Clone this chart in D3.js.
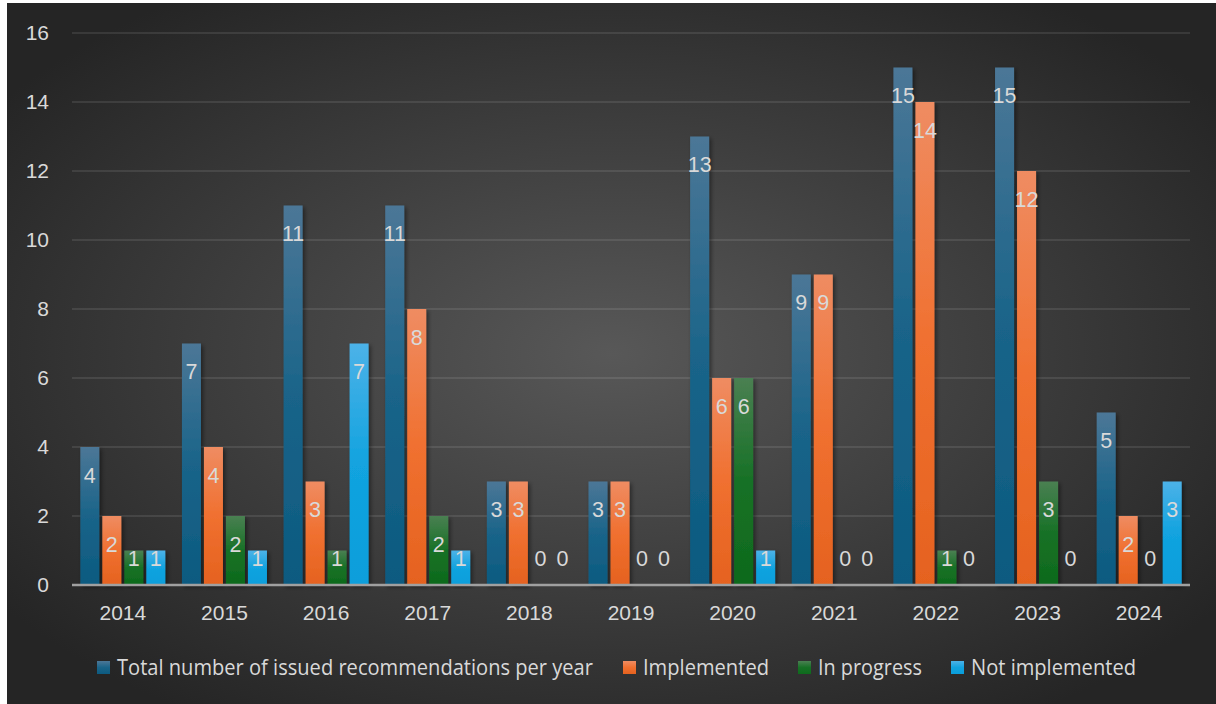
<!DOCTYPE html>
<html>
<head>
<meta charset="utf-8">
<script src="https://cdn.jsdelivr.net/npm/d3@7"></script>
<style>
  html, body { margin: 0; padding: 0; background: #ffffff; }
  svg { display: block; }
</style>
</head>
<body>
<svg id="chart" width="1216" height="704"></svg>
<script>
// ---- data ----
const years = ["2014","2015","2016","2017","2018","2019","2020","2021","2022","2023","2024"];
const seriesNames = ["Total number of issued recommendations per year", "Implemented", "In progress", "Not implemented"];
const totalIssued    = [4, 7, 11, 11, 3, 3, 13, 9, 15, 15, 5];
const implemented    = [2, 4, 3, 8, 3, 3, 6, 9, 14, 12, 2];
const inProgress     = [1, 2, 1, 2, 0, 0, 6, 0, 1, 3, 0];
const notImplemented = [1, 1, 7, 1, 0, 0, 1, 0, 0, 0, 3];
const yTicks = [0, 2, 4, 6, 8, 10, 12, 14, 16];

const seriesValues = [totalIssued, implemented, inProgress, notImplemented];
const seriesGrad = [
  ["#4c7797", "#1a6489", "#0c5a80"],
  ["#ef8c62", "#f07030", "#e5621f"],
  ["#4a8052", "#177126", "#0e6a1c"],
  ["#4cb2e8", "#12a3df", "#0a9edb"]
];

const svg = d3.select("#chart");
const defs = svg.append("defs");

// background radial gradient
const bg = defs.append("radialGradient").attr("id", "bg")
  .attr("cx", "50%").attr("cy", "50%").attr("r", "62%");
bg.append("stop").attr("offset", "0%").attr("stop-color", "#585858");
bg.append("stop").attr("offset", "100%").attr("stop-color", "#252525");

seriesGrad.forEach((g, i) => {
  const lg = defs.append("linearGradient").attr("id", "g" + i)
    .attr("x1", 0).attr("y1", 0).attr("x2", 0).attr("y2", 1);
  lg.append("stop").attr("offset", "0%").attr("stop-color", g[0]);
  lg.append("stop").attr("offset", "50%").attr("stop-color", g[1]);
  lg.append("stop").attr("offset", "100%").attr("stop-color", g[2]);
});

const sh = defs.append("filter").attr("id", "shadow")
  .attr("x", "-30%").attr("y", "-10%").attr("width", "160%").attr("height", "120%");
sh.append("feDropShadow").attr("dx", 2).attr("dy", 2).attr("stdDeviation", 2)
  .attr("flood-color", "#000").attr("flood-opacity", 0.45);

svg.append("rect").attr("x", 7).attr("y", 3).attr("width", 1209).attr("height", 701)
  .attr("fill", "url(#bg)");

const plotLeft = 72, plotRight = 1190, plotTop = 33, plotBottom = 585;
const y = d3.scaleLinear().domain([0, 16]).range([plotBottom, plotTop]);
const x0 = d3.scaleBand().domain(years).range([plotLeft, plotRight]).paddingInner(0).paddingOuter(0);

const groupW = 85;
const x1 = d3.scaleBand().domain(d3.range(4)).range([-groupW / 2, groupW / 2])
  .paddingInner(3 / 22).paddingOuter(0);

const textColor = "#d9d9d9";
const numFont = "'Liberation Sans', Arial, sans-serif";

// gridlines
svg.append("g").selectAll("line").data(yTicks.filter(t => t > 0)).join("line")
  .attr("x1", plotLeft).attr("x2", plotRight)
  .attr("y1", d => y(d)).attr("y2", d => y(d))
  .attr("stroke", "rgba(255,255,255,0.13)").attr("stroke-width", 1.5);

// y tick labels
svg.append("g").selectAll("text").data(yTicks).join("text")
  .attr("x", 49).attr("y", d => y(d)).attr("dy", "0.35em")
  .attr("text-anchor", "end").attr("fill", textColor)
  .attr("font-family", numFont).attr("font-size", 21)
  .text(d => d);

// bars
const gBars = svg.append("g");
years.forEach((yr, j) => {
  const cx = x0(yr) + x0.bandwidth() / 2;
  seriesValues.forEach((vals, i) => {
    const v = vals[j];
    if (v > 0) {
      gBars.append("rect")
        .attr("x", cx + x1(i)).attr("width", x1.bandwidth())
        .attr("y", y(v)).attr("height", y(0) - y(v))
        .attr("fill", `url(#g${i})`).attr("filter", "url(#shadow)");
    }
  });
});

// axis line
svg.append("line").attr("x1", plotLeft).attr("x2", plotRight)
  .attr("y1", y(0)).attr("y2", y(0))
  .attr("stroke", "#a0a0a0").attr("stroke-width", 2.5);

// data labels
const gLab = svg.append("g");
years.forEach((yr, j) => {
  const cx = x0(yr) + x0.bandwidth() / 2;
  seriesValues.forEach((vals, i) => {
    const v = vals[j];
    const cy = Math.min(y(v) + 28, y(0) - 27);
    gLab.append("text")
      .attr("x", cx + x1(i) + x1.bandwidth() / 2).attr("y", cy).attr("dy", "0.36em")
      .attr("text-anchor", "middle").attr("fill", textColor)
      .attr("font-family", numFont).attr("font-size", 21.5)
      .text(v);
  });
});

// x labels
svg.append("g").selectAll("text").data(years).join("text")
  .attr("x", d => x0(d) + x0.bandwidth() / 2).attr("y", 613).attr("dy", "0.35em")
  .attr("text-anchor", "middle").attr("fill", textColor)
  .attr("font-family", numFont).attr("font-size", 21)
  .text(d => d);

// legend
const legendItems = [
  { sq: 97, tx: 117, w: 476 },
  { sq: 623, tx: 643, w: 126 },
  { sq: 798, tx: 818, w: 104 },
  { sq: 951, tx: 971, w: 165 }
];
const gLeg = svg.append("g");
legendItems.forEach((it, i) => {
  gLeg.append("rect").attr("x", it.sq).attr("y", 661).attr("width", 13).attr("height", 13)
    .attr("fill", `url(#g${i})`);
  gLeg.append("text").attr("x", it.tx).attr("y", 668).attr("dy", "0.35em")
    .attr("fill", textColor)
    .attr("font-family", "'Liberation Sans Narrow', 'Open Sans', 'Noto Sans', sans-serif")
    .attr("font-size", 21)
    .attr("textLength", it.w).attr("lengthAdjust", "spacingAndGlyphs")
    .text(seriesNames[i]);
});
</script>
</body>
</html>
